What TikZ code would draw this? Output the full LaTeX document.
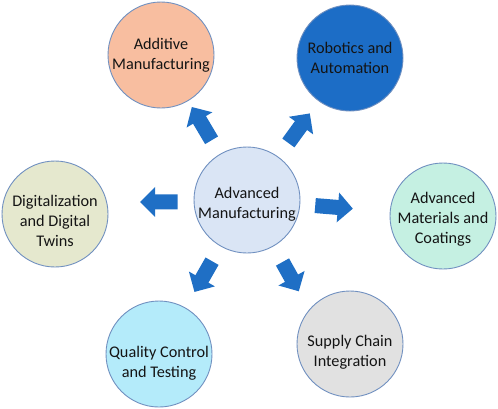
\documentclass[tikz,border=0pt]{standalone}
\usepackage{fontspec}
\setmainfont{Carlito}
\usetikzlibrary{arrows.meta}
\definecolor{rimblue}{HTML}{7090C0}
\definecolor{arrowblue}{HTML}{1F6FC5}
\definecolor{textgray}{HTML}{141414}
\definecolor{hubfill}{HTML}{DAE5F5}
\definecolor{peach}{HTML}{F8BEA0}
\definecolor{roboblue}{HTML}{1C6DC6}
\definecolor{olive}{HTML}{E5E8CE}
\definecolor{mint}{HTML}{C5F0E2}
\definecolor{cyanish}{HTML}{B4EBFA}
\definecolor{lightgray}{HTML}{E1E1E1}
\begin{document}
\begin{tikzpicture}[x=1bp,y=-1bp,
bubble/.style={draw=rimblue, line width=0.9bp, circle, minimum size=106bp, inner sep=0pt},
caption/.style={align=center, inner sep=0pt, text=textgray, font=\fontsize{16.3}{20}\selectfont},
push/.style={draw=arrowblue, line width=15bp, -{Triangle[length=15bp,width=29bp]}}]
\useasboundingbox (0,0) rectangle (498,408);
\node[bubble, fill=hubfill, label={[caption, yshift=-4bp]center:Advanced\\Manufacturing}] (hub) at (247,200) {};
\node[bubble, fill=peach, label={[caption]center:Additive\\Manufacturing}] (additive) at (161,55) {};
\node[bubble, fill=roboblue, label={[caption]center:Robotics and\\Automation}] (robotics) at (350,58) {};
\node[bubble, fill=olive, label={[caption, yshift=-7bp]center:Digitalization\\and Digital\\Twins}] (digital) at (55,214) {};
\node[bubble, fill=mint, label={[caption, yshift=-3bp]center:Advanced\\Materials and\\Coatings}] (materials) at (443,216) {};
\node[bubble, fill=cyanish, label={[caption, yshift=-9bp]center:Quality Control\\and Testing}] (quality) at (159,354) {};
\node[bubble, fill=lightgray, label={[caption, yshift=-8bp]center:Supply Chain\\Integration}] (supply) at (350,344) {};
\draw[push, shorten <=16bp, shorten >=7bp] (hub) -- (additive);
\draw[push, shorten <=17bp, shorten >=15bp] (hub) -- (robotics);
\draw[push, shorten <=16bp, shorten >=33bp] (hub.182) -- (digital.13);
\draw[push, shorten <=15bp, shorten >=37bp] (hub) -- (materials);
\draw[push, shorten <=17bp, shorten >=18bp] (hub) -- (quality);
\draw[push, shorten <=18bp, shorten >=21bp] (hub.-60) -- (supply.140);
\end{tikzpicture}
\end{document}
